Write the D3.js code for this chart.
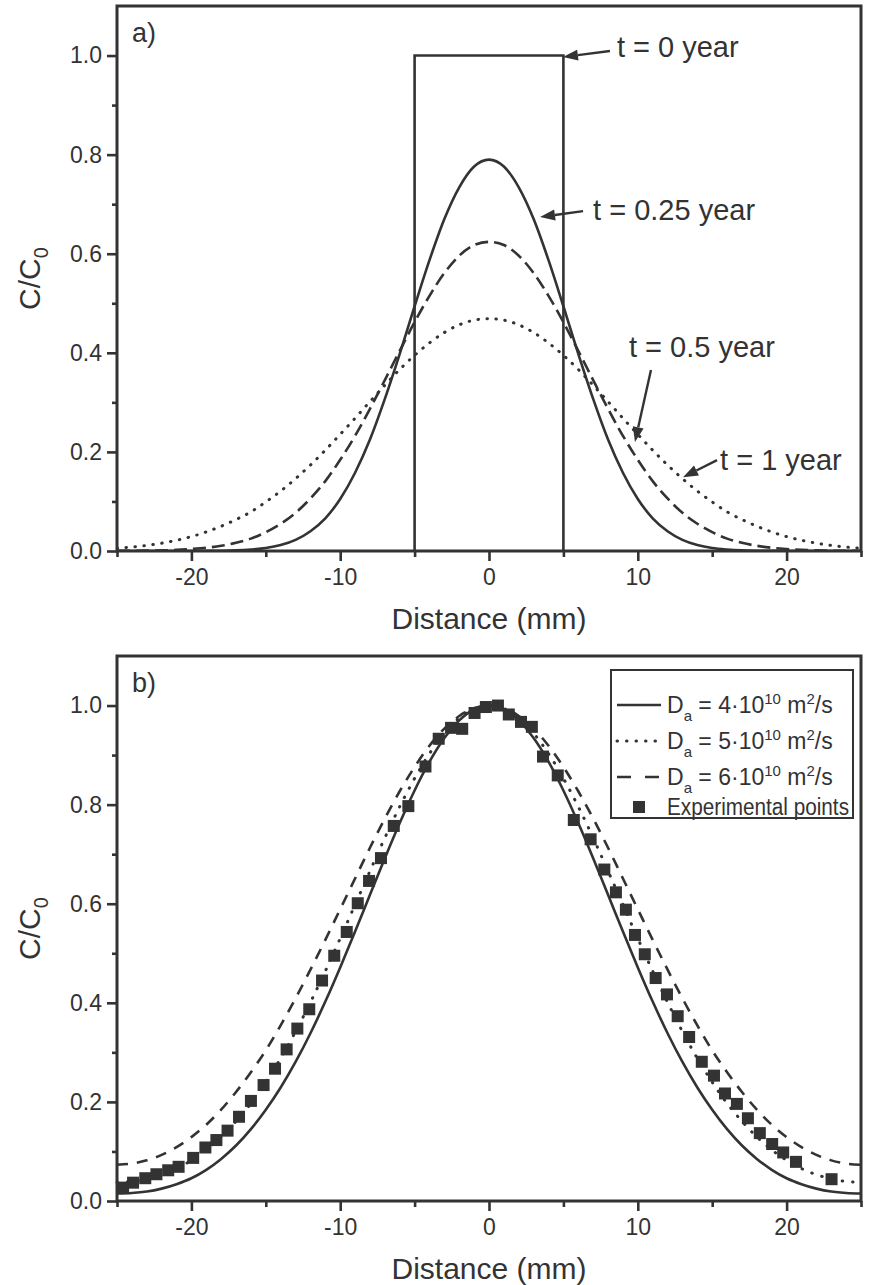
<!DOCTYPE html>
<html>
<head>
<meta charset="utf-8">
<script src="https://cdn.jsdelivr.net/npm/d3@7/dist/d3.min.js"></script>
<style>
  body { margin: 0; background: #fff; }
  svg text { font-family: "Liberation Sans", Arial, sans-serif; fill: #333; }
</style>
</head>
<body>
<script>
// distance grid (mm) shared by the model curves
const distance = [-25,-24,-23,-22,-21,-20,-19,-18,-17,-16,-15,-14,-13,-12,-11,-10,-9,-8,-7,-6,-5,-4,-3,-2,-1,
  0,1,2,3,4,5,6,7,8,9,10,11,12,13,14,15,16,17,18,19,20,21,22,23,24,25];

// panel a) initial pulse, t = 0 year
const pulseX = [-5, -5, 5, 5];
const pulseY = [0, 1, 1, 0];

// panel a) profiles after diffusion
const t025 = [0,0,0,0,0,0,0.0003,0.0006,0.0013,0.003,0.006,0.012,0.0225,0.040,0.066,0.105,0.158,0.225,0.307,0.398,0.494,0.587,0.670,0.734,0.776,
  0.790,0.776,0.734,0.670,0.587,0.494,0.398,0.307,0.225,0.158,0.105,0.066,0.040,0.0225,0.012,0.006,0.003,0.0013,0.0006,0.0003,0,0,0,0,0,0];
const t05 = [0.0002,0.0004,0.0007,0.0013,0.0022,0.004,0.0065,0.0105,0.0165,0.025,0.038,0.055,0.077,0.106,0.141,0.184,0.2325,0.287,0.345,0.404,0.462,0.515,0.561,0.596,0.6175,
  0.624,0.6175,0.596,0.561,0.515,0.462,0.404,0.345,0.287,0.2325,0.184,0.141,0.106,0.077,0.055,0.038,0.025,0.0165,0.0105,0.0065,0.004,0.0022,0.0013,0.0007,0.0004,0.0002];
const t1 = [0.0055,0.008,0.0112,0.0158,0.0217,0.029,0.0385,0.050,0.0635,0.079,0.099,0.121,0.146,0.1735,0.2035,0.2355,0.268,0.3015,0.3345,0.3665,0.395,0.420,0.441,0.4565,0.466,
  0.469,0.466,0.4565,0.441,0.420,0.395,0.3665,0.3345,0.3015,0.268,0.2355,0.2035,0.1735,0.146,0.121,0.099,0.079,0.0635,0.050,0.0385,0.029,0.0217,0.0158,0.0112,0.008,0.0055];

// panel b) model curves
const da4 = [0.015,0.016,0.019,0.025,0.034,0.046,0.063,0.085,0.112,0.145,0.1842,0.2291,0.2806,0.3386,0.4025,0.4715,0.5439,0.618,0.6918,0.7628,0.8286,0.8867,0.9346,0.970,0.9925,
  1.000,0.9925,0.970,0.9346,0.8867,0.8286,0.7628,0.6918,0.618,0.5439,0.4715,0.4025,0.3386,0.2806,0.2291,0.1842,0.145,0.112,0.085,0.063,0.046,0.034,0.025,0.019,0.016,0.015];
const da5 = [0.0378,0.0395,0.0446,0.0532,0.0656,0.0822,0.1032,0.1295,0.161,0.197,0.240,0.288,0.342,0.401,0.464,0.530,0.598,0.666,0.733,0.796,0.853,0.903,0.944,0.975,0.994,
  1.000,0.994,0.975,0.944,0.903,0.853,0.796,0.733,0.666,0.598,0.530,0.464,0.401,0.342,0.288,0.240,0.197,0.161,0.1295,0.1032,0.0822,0.0656,0.0532,0.0446,0.0395,0.0378];
const da6 = [0.0732,0.0755,0.082,0.093,0.1087,0.129,0.154,0.1845,0.220,0.260,0.304,0.3545,0.409,0.467,0.527,0.589,0.651,0.713,0.772,0.827,0.876,0.919,0.9535,0.979,0.9947,
  1.000,0.9947,0.979,0.9535,0.919,0.876,0.827,0.772,0.713,0.651,0.589,0.527,0.467,0.409,0.3545,0.304,0.260,0.220,0.1845,0.154,0.129,0.1087,0.093,0.082,0.0755,0.0732];

// panel b) experimental points
const expX = [-24.59,-23.92,-23.1,-22.35,-21.56,-20.86,-19.88,-19.06,-18.32,-17.57,-16.8,-16.0,-15.15,-14.38,-13.6,-12.88,-12.08,-11.22,-10.4,-9.56,-8.82,-8.06,-7.26,-6.4,-5.42,-4.27,-3.38,-2.55,-1.8,-0.97,-0.21,
  0.6,1.33,2.15,2.88,3.63,4.62,5.7,6.83,7.75,8.53,9.2,9.81,10.47,11.2,11.96,12.68,13.45,14.3,15.12,15.86,16.66,17.4,18.2,19.03,19.77,20.63,23.02];
const expY = [0.027,0.037,0.046,0.054,0.062,0.069,0.087,0.108,0.123,0.142,0.170,0.202,0.234,0.267,0.306,0.348,0.387,0.445,0.495,0.543,0.601,0.646,0.692,0.757,0.797,0.877,0.933,0.955,0.953,0.985,0.997,
  1.0,0.982,0.967,0.957,0.897,0.859,0.769,0.730,0.669,0.623,0.588,0.537,0.498,0.450,0.417,0.373,0.331,0.281,0.253,0.217,0.196,0.167,0.137,0.115,0.098,0.079,0.044];

// axis ticks
const xMajor = [-20, -10, 0, 10, 20];
const xMinor = [-25, -15, -5, 5, 15, 25];
const yMajor = [0, 0.2, 0.4, 0.6, 0.8, 1.0];
const yMinor = [0.1, 0.3, 0.5, 0.7, 0.9];

const ink = '#333';
const svg = d3.select('body').append('svg')
  .attr('width', 870)
  .attr('height', 1285);

const x = d3.scaleLinear().domain([-25, 25]).range([117, 861]);
const panelH = 545;

function drawPanel(top, tag) {
  const y = d3.scaleLinear().domain([0, 1.1]).range([top + panelH, top]);
  const g = svg.append('g');

  // axes (bottom + left), major and minor ticks
  const bx = g.append('g').attr('transform', `translate(0,${top + panelH})`)
    .call(d3.axisBottom(x).tickValues(xMajor).tickSize(10).tickSizeOuter(0).tickPadding(8).tickFormat(d => String(d)));
  const bxm = g.append('g').attr('transform', `translate(0,${top + panelH})`)
    .call(d3.axisBottom(x).tickValues(xMinor).tickSize(6).tickSizeOuter(0).tickFormat(''));
  const ly = g.append('g').attr('transform', 'translate(117,0)')
    .call(d3.axisLeft(y).tickValues(yMajor).tickSize(10).tickSizeOuter(0).tickPadding(5).tickFormat(d3.format('.1f')));
  const lym = g.append('g').attr('transform', 'translate(117,0)')
    .call(d3.axisLeft(y).tickValues(yMinor).tickSize(5).tickSizeOuter(0).tickFormat(''));
  [bx, bxm, ly, lym].forEach(a => {
    a.select('.domain').remove();
    a.selectAll('line').attr('stroke', ink).attr('stroke-width', 2.6);
    a.selectAll('text').attr('font-size', 23).attr('fill', ink)
      .attr('font-family', '"Liberation Sans", Arial, sans-serif');
  });

  // frame
  g.append('rect')
    .attr('x', 117).attr('y', top)
    .attr('width', 744).attr('height', panelH)
    .attr('fill', 'none').attr('stroke', ink).attr('stroke-width', 3);

  // axis titles
  g.append('text')
    .attr('x', 489).attr('y', top + panelH + 78)
    .attr('text-anchor', 'middle').attr('font-size', 30)
    .text('Distance (mm)');
  const yt = g.append('text')
    .attr('transform', `translate(40,${top + panelH / 2}) rotate(-90)`)
    .attr('text-anchor', 'middle').attr('font-size', 30);
  yt.append('tspan').text('C/C');
  yt.append('tspan').attr('font-size', 20).attr('dy', 8).text('0');

  g.append('text')
    .attr('x', 132).attr('y', top + 36)
    .attr('font-size', 27)
    .text(tag);

  return { g, y };
}

// ---------- panel a ----------
const A = drawPanel(6, 'a)');
const lineA = d3.line().x(d => x(d[0])).y(d => A.y(d[1])).curve(d3.curveMonotoneX);

A.g.append('clipPath').attr('id', 'clipA')
  .append('rect').attr('x', 117).attr('y', 6).attr('width', 744).attr('height', panelH);

A.g.append('path')
  .datum(pulseX.map((v, i) => [v, pulseY[i]]))
  .attr('d', d3.line().x(d => x(d[0])).y(d => A.y(d[1])))
  .attr('fill', 'none').attr('stroke', ink).attr('stroke-width', 2.6);

const seriesA = [
  { v: t025, dash: null },
  { v: t05, dash: '13,6' },
  { v: t1, dash: '0.5,8.5' }
];
seriesA.forEach(s => {
  const dotted = s.dash && s.dash.startsWith('0.5');
  A.g.append('path')
    .datum(distance.map((d, i) => [d, s.v[i]]))
    .attr('clip-path', 'url(#clipA)')
    .attr('d', lineA)
    .attr('fill', 'none').attr('stroke', ink)
    .attr('stroke-width', dotted ? 3 : 2.6)
    .attr('stroke-linecap', dotted ? 'round' : 'butt')
    .attr('stroke-dasharray', s.dash);
});

// annotations with arrows: tip in data units, tail/text offsets in px
const notes = [
  { label: 't = 0 year',    tx: 4.97,  ty: 0.997, dx: 47, dy: -6,  lx: 54, ly: -10 },
  { label: 't = 0.25 year', tx: 3.43,  ty: 0.674, dx: 43, dy: -6,  lx: 53, ly: -7 },
  { label: 't = 0.5 year',  tx: 9.81,  ty: 0.22,  dx: 16, dy: -72, lx: -6, ly: -95 },
  { label: 't = 1 year',    tx: 13.04, ty: 0.149, dx: 34, dy: -17, lx: 37, ly: -17 }
];
notes.forEach(n => {
  const px = x(n.tx), py = A.y(n.ty);
  const ang = Math.atan2(n.dy, n.dx);
  const hl = 15, hw = 5.5;
  const bx0 = px + hl * Math.cos(ang), by0 = py + hl * Math.sin(ang);
  A.g.append('line')
    .attr('x1', bx0).attr('y1', by0)
    .attr('x2', px + n.dx).attr('y2', py + n.dy)
    .attr('stroke', ink).attr('stroke-width', 2.4);
  A.g.append('path')
    .attr('d', `M${px},${py}L${bx0 - hw * Math.sin(ang)},${by0 + hw * Math.cos(ang)}L${bx0 + hw * Math.sin(ang)},${by0 - hw * Math.cos(ang)}Z`)
    .attr('fill', ink);
  A.g.append('text')
    .attr('x', px + n.lx).attr('y', py + n.ly + 10)
    .attr('font-size', 29)
    .text(n.label);
});

// ---------- panel b ----------
const B = drawPanel(656, 'b)');
const lineB = d3.line().x(d => x(d[0])).y(d => B.y(d[1])).curve(d3.curveMonotoneX);

const seriesB = [
  { v: da4, dash: null, label: '4' },
  { v: da5, dash: '0.5,10', label: '5' },
  { v: da6, dash: '11,9', label: '6' }
];
seriesB.forEach(s => {
  B.g.append('path')
    .datum(distance.map((d, i) => [d, s.v[i]]))
    .attr('d', lineB)
    .attr('fill', 'none').attr('stroke', ink)
    .attr('stroke-width', s.dash === '0.5,10' ? 3 : 2.6)
    .attr('stroke-linecap', s.dash === '0.5,10' ? 'round' : 'butt')
    .attr('stroke-dasharray', s.dash);
});

const ms = 12;
B.g.selectAll('rect.pt')
  .data(expX.map((d, i) => [d, expY[i]]))
  .enter().append('rect')
  .attr('class', 'pt')
  .attr('x', d => x(d[0]) - ms / 2)
  .attr('y', d => B.y(d[1]) - ms / 2)
  .attr('width', ms).attr('height', ms)
  .attr('fill', ink);

// legend
const leg = B.g.append('g').attr('transform', 'translate(611,670)');
leg.append('rect')
  .attr('width', 242).attr('height', 148)
  .attr('fill', '#fff').attr('stroke', ink).attr('stroke-width', 2);
const rowY = [35, 71, 107, 137];
seriesB.forEach((s, i) => {
  leg.append('line')
    .attr('x1', 6).attr('x2', s.dash === '11,9' ? 58 : 50)
    .attr('y1', rowY[i]).attr('y2', rowY[i])
    .attr('stroke', ink)
    .attr('stroke-width', s.dash === '0.5,10' ? 3 : 2.6)
    .attr('stroke-linecap', s.dash === '0.5,10' ? 'round' : 'butt')
    .attr('stroke-dasharray', s.dash === '11,9' ? '14,14' : (s.dash ? '0.5,9' : null));
  const t = leg.append('text')
    .attr('x', 56).attr('y', rowY[i] + 8)
    .attr('font-size', 23);
  t.append('tspan').text('D');
  t.append('tspan').attr('font-size', 15).attr('dy', 8).text('a');
  t.append('tspan').attr('dy', -8).text(` = ${s.label}·10`);
  t.append('tspan').attr('font-size', 15).attr('dy', -9).text('10');
  t.append('tspan').attr('dy', 9).text(' m');
  t.append('tspan').attr('font-size', 15).attr('dy', -9).text('2');
  t.append('tspan').attr('dy', 9).text('/s');
});
leg.append('rect')
  .attr('x', 28 - ms / 2).attr('y', rowY[3] - ms / 2)
  .attr('width', ms).attr('height', ms)
  .attr('fill', ink);
leg.append('text')
  .attr('x', 56).attr('y', rowY[3] + 8)
  .attr('font-size', 23)
  .attr('textLength', 182)
  .attr('lengthAdjust', 'spacingAndGlyphs')
  .text('Experimental points');
</script>
</body>
</html>
